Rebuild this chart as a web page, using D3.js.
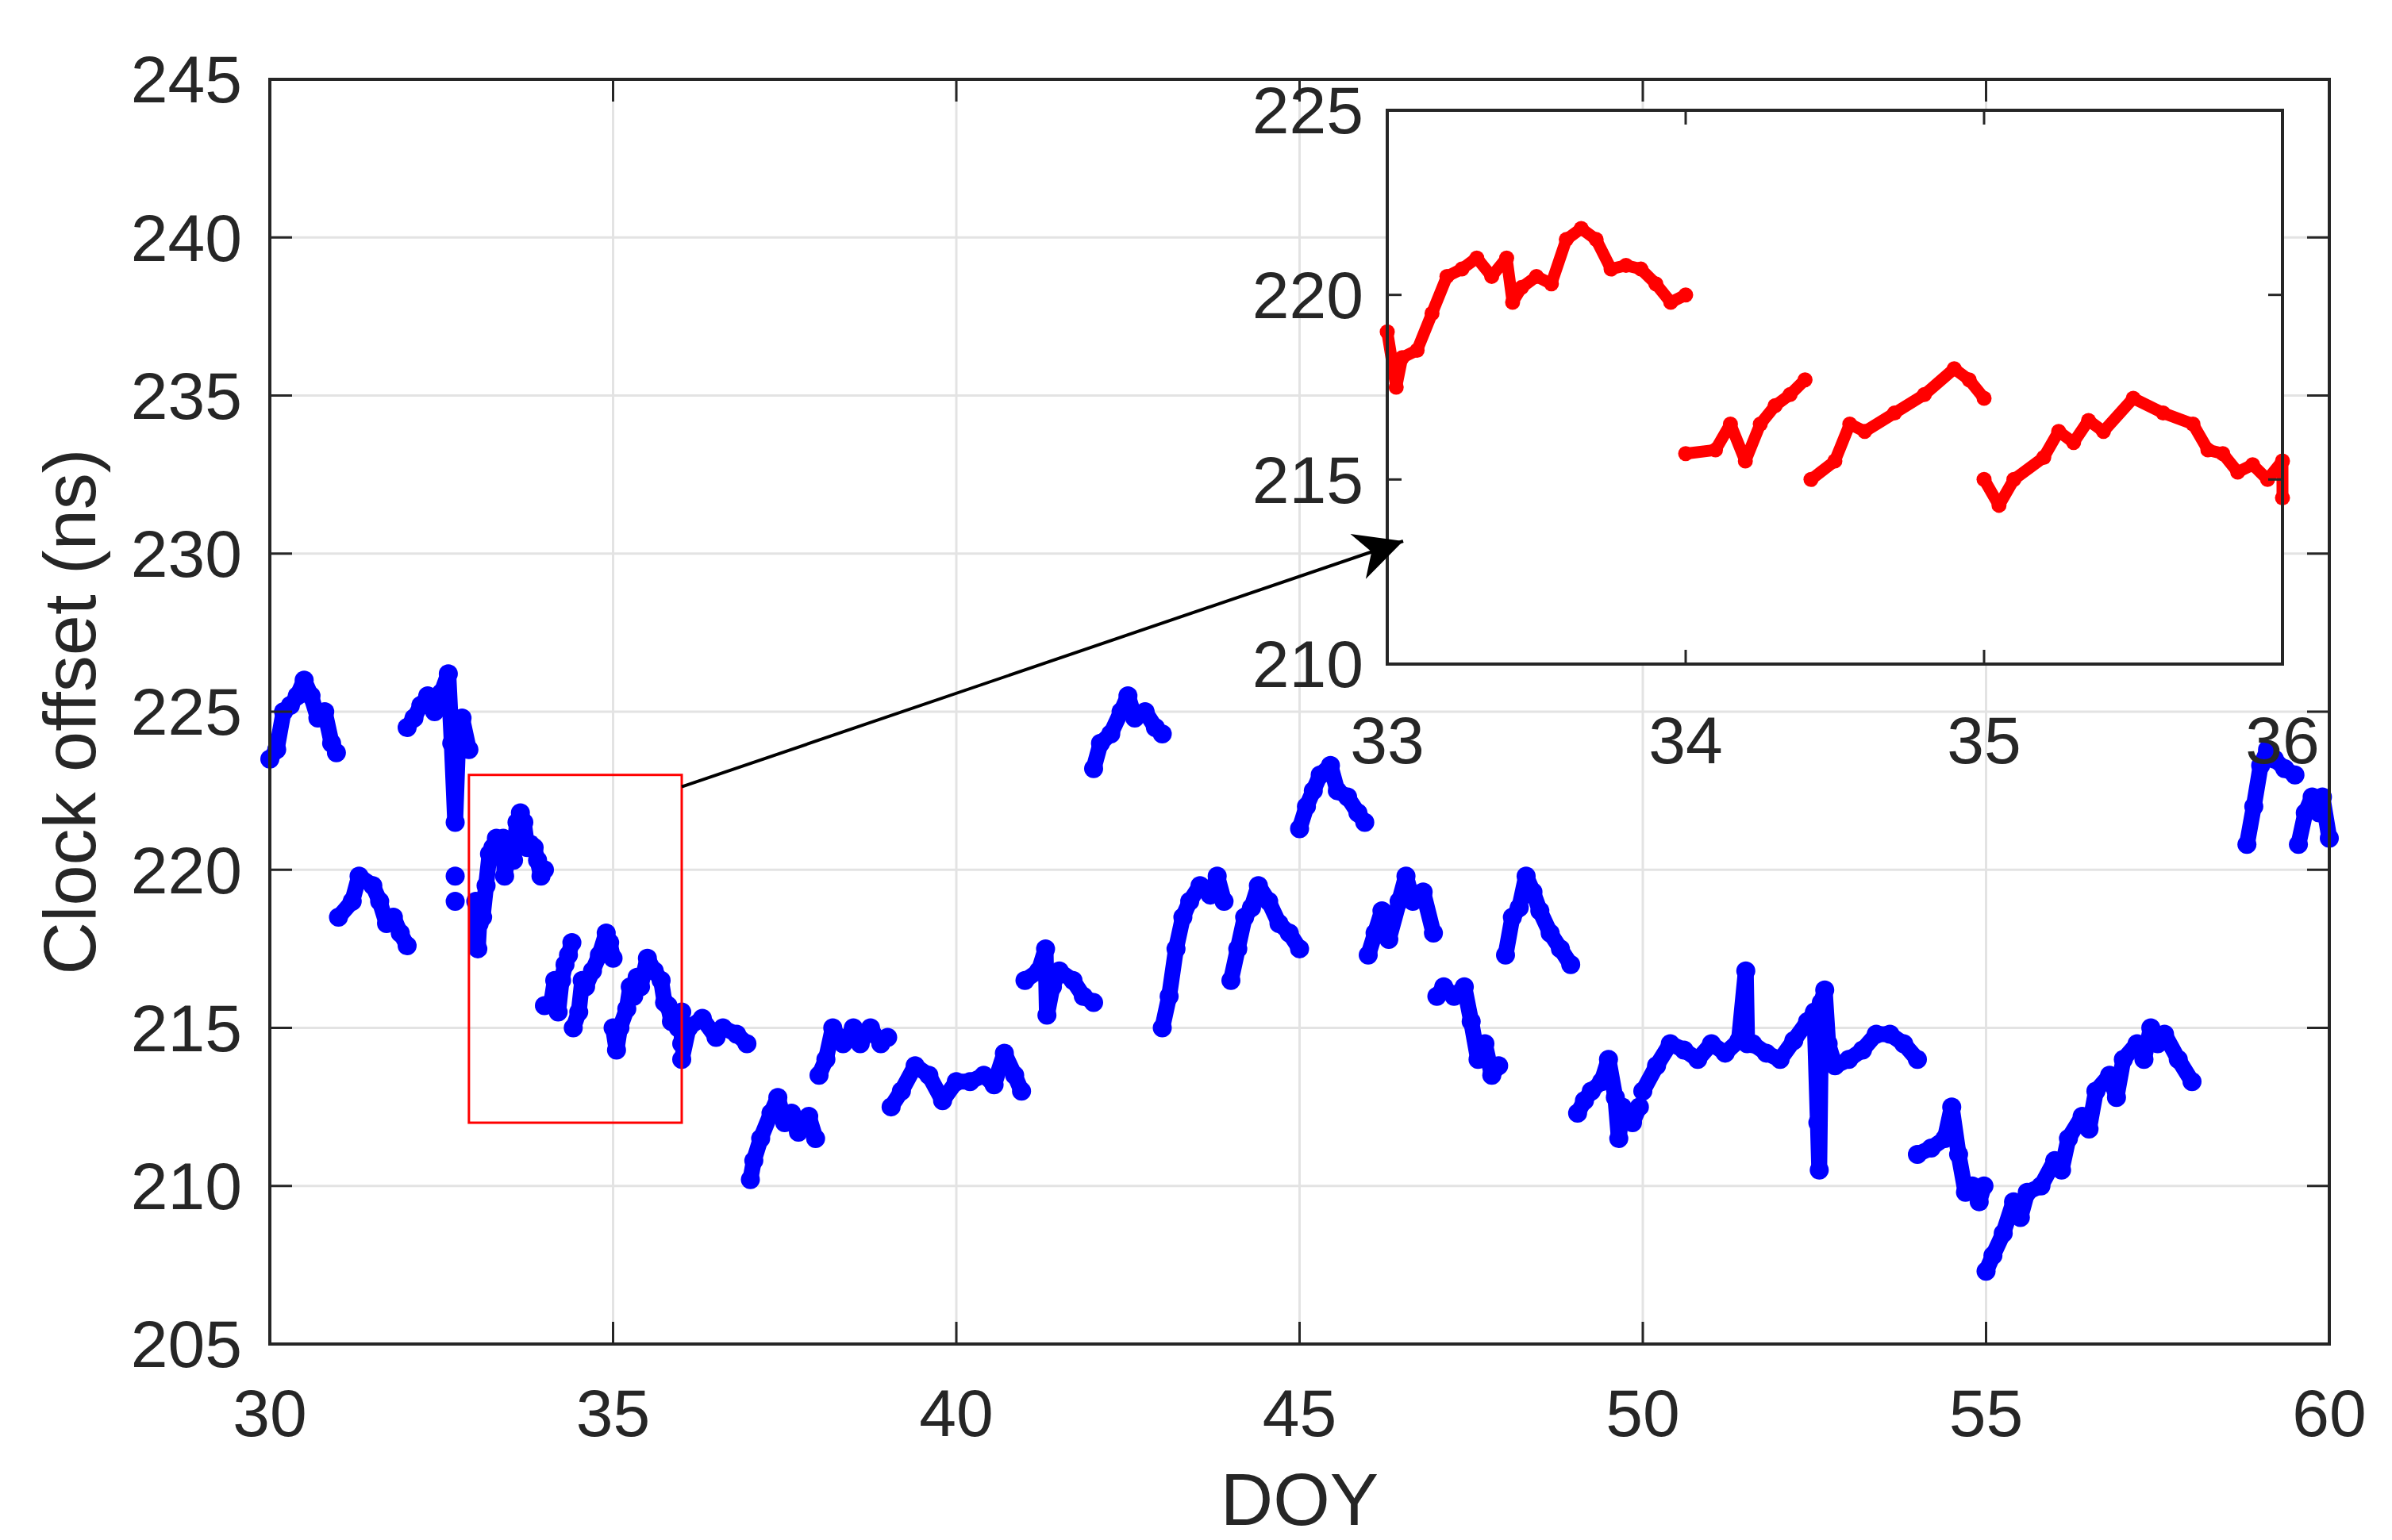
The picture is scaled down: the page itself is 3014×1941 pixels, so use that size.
<!DOCTYPE html>
<html>
<head>
<meta charset="utf-8">
<script src="https://cdn.jsdelivr.net/npm/d3@7"></script>
<style>
  body { margin: 0; background: #fff; }
  text { font-family: "Liberation Sans", Arial, sans-serif; fill: #262626; }
</style>
</head>
<body>
<div id="chart"></div>
<script>
// DOY 33-36 segments (shown red in the inset, blue in the main plot)
const zoomSegments = [
  [[33.0,219],[33.03,217.5],[33.05,218.3],[33.1,218.5],[33.15,219.5],[33.2,220.5],[33.25,220.7],[33.3,221],[33.35,220.5],[33.4,221],[33.42,219.8],[33.45,220.2],[33.5,220.5],[33.55,220.3],[33.6,221.5],[33.65,221.8],[33.7,221.5],[33.75,220.7],[33.8,220.8],[33.85,220.7],[33.9,220.3],[33.95,219.8],[34.0,220]],
  [[34.0,215.7],[34.1,215.8],[34.15,216.5],[34.2,215.5],[34.25,216.5],[34.3,217],[34.35,217.3],[34.4,217.7]],
  [[34.42,215.0],[34.5,215.5],[34.55,216.5],[34.6,216.3],[34.7,216.8],[34.8,217.3],[34.9,218],[34.95,217.7],[35.0,217.2]],
  [[35.0,215],[35.05,214.3],[35.1,215],[35.2,215.6],[35.25,216.3],[35.3,216],[35.35,216.6],[35.4,216.3],[35.5,217.2],[35.6,216.8],[35.7,216.5],[35.75,215.8],[35.8,215.7],[35.85,215.2],[35.9,215.4],[35.95,215],[36.0,215.5],[36.0,214.5]]
];

const otherSegments = [
  [[30,223.5],[30.1,223.8],[30.2,225],[30.3,225.2],[30.4,225.5],[30.5,226],[30.6,225.5],[30.7,224.8],[30.8,225],[30.9,224],[30.97,223.7]],
  [[31,218.5],[31.2,219],[31.3,219.8],[31.5,219.5],[31.6,219],[31.7,218.3],[31.8,218.5],[31.9,218],[32,217.6]],
  [[32,224.5],[32.1,224.8],[32.2,225.2],[32.3,225.5],[32.4,225],[32.5,225.6],[32.6,226.2],[32.65,224],[32.7,221.5],[32.75,224.5],[32.8,224.8],[32.9,223.8]],
  [[32.7,219.8]],
  [[32.7,219]],
  [[36,214],[36.1,215],[36.3,215.3],[36.5,214.7],[36.6,215],[36.8,214.8],[36.95,214.5]],
  [[37,210.2],[37.05,210.8],[37.15,211.5],[37.3,212.3],[37.4,212.8],[37.5,212],[37.6,212.3],[37.7,211.7],[37.85,212.2],[37.95,211.5]],
  [[38,213.5],[38.1,214],[38.2,215],[38.35,214.5],[38.5,215],[38.6,214.5],[38.75,215],[38.9,214.5],[39,214.7]],
  [[39.05,212.5],[39.2,213],[39.4,213.8],[39.6,213.5],[39.8,212.7],[40,213.3],[40.2,213.3],[40.4,213.5],[40.55,213.2],[40.7,214.2],[40.85,213.5],[40.95,213]],
  [[41,216.5],[41.2,216.8],[41.3,217.5],[41.32,215.4],[41.4,216.3],[41.5,216.8],[41.7,216.5],[41.85,216],[42,215.8]],
  [[42,223.2],[42.1,224],[42.25,224.3],[42.4,225],[42.5,225.5],[42.6,224.8],[42.75,225],[42.9,224.5],[43,224.3]],
  [[43,215],[43.1,216],[43.2,217.5],[43.3,218.5],[43.4,219],[43.55,219.5],[43.7,219.2],[43.8,219.8],[43.9,219]],
  [[44,216.5],[44.1,217.5],[44.2,218.5],[44.3,218.8],[44.4,219.5],[44.55,219],[44.7,218.3],[44.85,218],[45,217.5]],
  [[45,221.3],[45.1,222],[45.2,222.5],[45.3,223],[45.45,223.3],[45.55,222.5],[45.7,222.3],[45.85,221.8],[45.95,221.5]],
  [[46,217.3],[46.1,218],[46.2,218.7],[46.3,217.8],[46.45,219],[46.55,219.8],[46.65,219],[46.8,219.3],[46.95,218]],
  [[47,216],[47.1,216.3],[47.25,216],[47.4,216.3],[47.5,215.2],[47.6,214],[47.7,214.5],[47.8,213.5],[47.9,213.8]],
  [[48,217.3],[48.1,218.5],[48.2,218.8],[48.3,219.8],[48.4,219.3],[48.5,218.7],[48.65,218],[48.8,217.5],[48.95,217]],
  [[49.05,212.3],[49.15,212.7],[49.25,213],[49.4,213.3],[49.5,214],[49.6,212.8],[49.65,211.5],[49.7,212.5],[49.85,212],[49.95,212.5]],
  [[50,213],[50.2,213.8],[50.4,214.5],[50.6,214.3],[50.8,214],[51,214.5],[51.2,214.2],[51.4,214.6],[51.5,216.8],[51.52,214.5],[51.6,214.5],[51.8,214.2],[52,214],[52.2,214.6],[52.4,215.2],[52.5,215.5],[52.55,212],[52.57,210.5],[52.6,215.8],[52.65,216.2],[52.7,214.5],[52.8,213.8],[53,214],[53.2,214.3],[53.4,214.8],[53.6,214.8],[53.8,214.5],[54,214]],
  [[54,211],[54.2,211.2],[54.4,211.5],[54.5,212.5],[54.6,211],[54.7,209.8],[54.8,210],[54.9,209.5],[54.97,210]],
  [[55,207.3],[55.1,207.8],[55.25,208.5],[55.4,209.5],[55.5,209],[55.6,209.8],[55.8,210],[56,210.8],[56.1,210.5],[56.2,211.5],[56.4,212.2],[56.5,211.8],[56.6,213],[56.8,213.5],[56.9,212.8],[57,214],[57.2,214.5],[57.3,214],[57.4,215],[57.5,214.5],[57.6,214.8],[57.8,214],[58,213.3]],
  [[58.8,220.8],[58.9,222],[59.0,223.3],[59.1,223.8],[59.2,223.5],[59.35,223.2],[59.5,223]],
  [[59.55,220.8],[59.65,221.8],[59.75,222.3],[59.85,221.8],[59.9,222.3],[60,221]]
];

const xTicks = [30, 35, 40, 45, 50, 55, 60];
const yTicks = [205, 210, 215, 220, 225, 230, 235, 240, 245];
const insetXTicks = [33, 34, 35, 36];
const insetYTicks = [210, 215, 220, 225];
const zoomBox = { x0: 32.9, x1: 36, y0: 212, y1: 223 };

const W = 3014, H = 1941;
const svg = d3.select("#chart").append("svg").attr("width", W).attr("height", H);

const x = d3.scaleLinear().domain([30, 60]).range([340, 2935]);
const y = d3.scaleLinear().domain([205, 245]).range([1694, 100]);

const axisColor = "#262626";
const gridColor = "#e3e3e3";

// grid
svg.append("g").selectAll("line.gx").data(xTicks).enter().append("line")
  .attr("x1", d => x(d)).attr("x2", d => x(d)).attr("y1", y(245)).attr("y2", y(205))
  .attr("stroke", gridColor).attr("stroke-width", 3);
svg.append("g").selectAll("line.gy").data(yTicks).enter().append("line")
  .attr("x1", x(30)).attr("x2", x(60)).attr("y1", d => y(d)).attr("y2", d => y(d))
  .attr("stroke", gridColor).attr("stroke-width", 3);

function drawSegments(g, segs, xs, ys, color, w) {
  const line = d3.line().x(d => xs(d[0])).y(d => ys(d[1]));
  g.selectAll("path.seg").data(segs).enter().append("path")
    .attr("d", line).attr("fill", "none").attr("stroke", color)
    .attr("stroke-width", w).attr("stroke-linecap", "round").attr("stroke-linejoin", "round");
  g.selectAll("circle").data(segs.flat()).enter().append("circle")
    .attr("cx", d => xs(d[0])).attr("cy", d => ys(d[1])).attr("r", w / 2 + 2).attr("fill", color);
}

drawSegments(svg.append("g"), otherSegments.concat(zoomSegments), x, y, "#0000ff", 20);

// axes box with inward ticks
function box(g, xs, ys, xt, yt, tl) {
  const [xa, xb] = xs.range(), [ya, yb] = ys.range();
  g.append("rect").attr("x", xa).attr("y", yb).attr("width", xb - xa).attr("height", ya - yb)
    .attr("fill", "none").attr("stroke", axisColor).attr("stroke-width", 4);
  xt.forEach(t => {
    g.append("line").attr("x1", xs(t)).attr("x2", xs(t)).attr("y1", ya).attr("y2", ya - tl).attr("stroke", axisColor).attr("stroke-width", 3);
    g.append("line").attr("x1", xs(t)).attr("x2", xs(t)).attr("y1", yb).attr("y2", yb + tl).attr("stroke", axisColor).attr("stroke-width", 3);
  });
  yt.forEach(t => {
    g.append("line").attr("x1", xa).attr("x2", xa + tl).attr("y1", ys(t)).attr("y2", ys(t)).attr("stroke", axisColor).attr("stroke-width", 3);
    g.append("line").attr("x1", xb).attr("x2", xb - tl).attr("y1", ys(t)).attr("y2", ys(t)).attr("stroke", axisColor).attr("stroke-width", 3);
  });
}
box(svg.append("g"), x, y, xTicks, yTicks, 28);

svg.append("g").selectAll("text").data(xTicks).enter().append("text")
  .attr("x", d => x(d)).attr("y", 1810).attr("text-anchor", "middle")
  .attr("font-size", 84).text(d => d);
svg.append("g").selectAll("text").data(yTicks).enter().append("text")
  .attr("x", 305).attr("y", d => y(d)).attr("dy", "0.35em").attr("text-anchor", "end")
  .attr("font-size", 84).text(d => d);

svg.append("text").attr("x", (x(30) + x(60)) / 2).attr("y", 1922).attr("text-anchor", "middle")
  .attr("font-size", 92).text("DOY");
svg.append("text").attr("transform", `translate(120,${(y(205) + y(245)) / 2}) rotate(-90)`)
  .attr("text-anchor", "middle").attr("font-size", 92).text("Clock offset (ns)");

// zoom rectangle
svg.append("rect").attr("x", x(zoomBox.x0)).attr("y", y(zoomBox.y1))
  .attr("width", x(zoomBox.x1) - x(zoomBox.x0)).attr("height", y(zoomBox.y0) - y(zoomBox.y1))
  .attr("fill", "none").attr("stroke", "#ff0000").attr("stroke-width", 3);

// inset
const xi = d3.scaleLinear().domain([33, 36]).range([1748, 2876]);
const yi = d3.scaleLinear().domain([210, 225]).range([837, 139]);
const inset = svg.append("g");
inset.append("rect").attr("x", 1748).attr("y", 139).attr("width", 2876 - 1748).attr("height", 837 - 139).attr("fill", "#fff");
drawSegments(inset.append("g"), zoomSegments, xi, yi, "#ff0000", 15);
box(inset.append("g"), xi, yi, insetXTicks, insetYTicks, 18);
inset.selectAll("text.ix").data(insetXTicks).enter().append("text")
  .attr("x", d => xi(d)).attr("y", 962).attr("text-anchor", "middle").attr("font-size", 84).text(d => d);
inset.selectAll("text.iy").data(insetYTicks).enter().append("text")
  .attr("x", 1718).attr("y", d => yi(d)).attr("dy", "0.35em").attr("text-anchor", "end").attr("font-size", 84).text(d => d);

// arrow
svg.append("defs").append("marker").attr("id", "ah").attr("viewBox", "0 0 10 10")
  .attr("refX", 10).attr("refY", 5).attr("markerWidth", 70).attr("markerHeight", 60)
  .attr("markerUnits", "userSpaceOnUse").attr("orient", "auto")
  .append("path").attr("d", "M0,0 L10,5 L0,10 L3,5 Z").attr("fill", "#000");
svg.append("line").attr("x1", x(zoomBox.x1)).attr("y1", y(zoomBox.y1) + 15)
  .attr("x2", 1768).attr("y2", 682).attr("stroke", "#000").attr("stroke-width", 4)
  .attr("marker-end", "url(#ah)");
</script>
</body>
</html>
